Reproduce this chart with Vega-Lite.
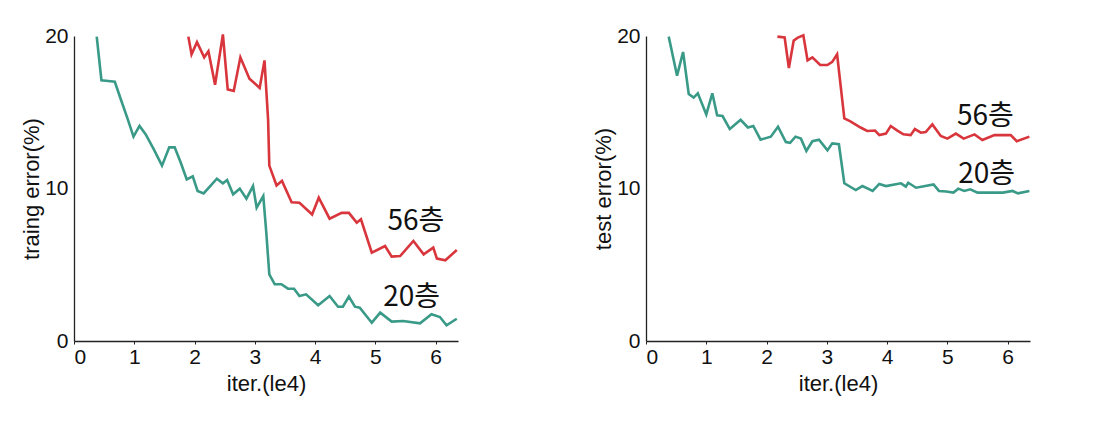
{
  "$schema": "https://vega.github.io/schema/vega-lite/v6.json",
  "padding": {"left": 20, "top": 25, "right": 5, "bottom": 5},
  "background": "white",
  "config": {
    "font": "Liberation Sans",
    "view": {"stroke": null},
    "concat": {"spacing": 130}
  },
  "datasets": {
    "curves": [
      {"panel": "train", "series": "20", "x": 0.377, "y": 19.96},
      {"panel": "train", "series": "20", "x": 0.455, "y": 17.1},
      {"panel": "train", "series": "20", "x": 0.566, "y": 17.05},
      {"panel": "train", "series": "20", "x": 0.677, "y": 17.0},
      {"panel": "train", "series": "20", "x": 0.776, "y": 15.85},
      {"panel": "train", "series": "20", "x": 0.887, "y": 14.6},
      {"panel": "train", "series": "20", "x": 0.987, "y": 13.4},
      {"panel": "train", "series": "20", "x": 1.087, "y": 14.1},
      {"panel": "train", "series": "20", "x": 1.19, "y": 13.55},
      {"panel": "train", "series": "20", "x": 1.32, "y": 12.6},
      {"panel": "train", "series": "20", "x": 1.46, "y": 11.5},
      {"panel": "train", "series": "20", "x": 1.58, "y": 12.7},
      {"panel": "train", "series": "20", "x": 1.67, "y": 12.7},
      {"panel": "train", "series": "20", "x": 1.77, "y": 11.7},
      {"panel": "train", "series": "20", "x": 1.87, "y": 10.6},
      {"panel": "train", "series": "20", "x": 1.97, "y": 10.8},
      {"panel": "train", "series": "20", "x": 2.05, "y": 9.84},
      {"panel": "train", "series": "20", "x": 2.15, "y": 9.68},
      {"panel": "train", "series": "20", "x": 2.26, "y": 10.16},
      {"panel": "train", "series": "20", "x": 2.37, "y": 10.64},
      {"panel": "train", "series": "20", "x": 2.47, "y": 10.34},
      {"panel": "train", "series": "20", "x": 2.54, "y": 10.56},
      {"panel": "train", "series": "20", "x": 2.64, "y": 9.62},
      {"panel": "train", "series": "20", "x": 2.75, "y": 9.99},
      {"panel": "train", "series": "20", "x": 2.86, "y": 9.33},
      {"panel": "train", "series": "20", "x": 2.97, "y": 10.16},
      {"panel": "train", "series": "20", "x": 3.03, "y": 8.74},
      {"panel": "train", "series": "20", "x": 3.14, "y": 9.5},
      {"panel": "train", "series": "20", "x": 3.19, "y": 7.1},
      {"panel": "train", "series": "20", "x": 3.24, "y": 4.37},
      {"panel": "train", "series": "20", "x": 3.33, "y": 3.72},
      {"panel": "train", "series": "20", "x": 3.44, "y": 3.72},
      {"panel": "train", "series": "20", "x": 3.55, "y": 3.43},
      {"panel": "train", "series": "20", "x": 3.65, "y": 3.43},
      {"panel": "train", "series": "20", "x": 3.74, "y": 2.95},
      {"panel": "train", "series": "20", "x": 3.85, "y": 3.06},
      {"panel": "train", "series": "20", "x": 4.05, "y": 2.34},
      {"panel": "train", "series": "20", "x": 4.24, "y": 2.95},
      {"panel": "train", "series": "20", "x": 4.38, "y": 2.25},
      {"panel": "train", "series": "20", "x": 4.46, "y": 2.25},
      {"panel": "train", "series": "20", "x": 4.56, "y": 2.91},
      {"panel": "train", "series": "20", "x": 4.66, "y": 2.25},
      {"panel": "train", "series": "20", "x": 4.74, "y": 2.19},
      {"panel": "train", "series": "20", "x": 4.94, "y": 1.2},
      {"panel": "train", "series": "20", "x": 5.08, "y": 1.86},
      {"panel": "train", "series": "20", "x": 5.27, "y": 1.27},
      {"panel": "train", "series": "20", "x": 5.46, "y": 1.31},
      {"panel": "train", "series": "20", "x": 5.74, "y": 1.16},
      {"panel": "train", "series": "20", "x": 5.93, "y": 1.75},
      {"panel": "train", "series": "20", "x": 6.07, "y": 1.57},
      {"panel": "train", "series": "20", "x": 6.18, "y": 1.03},
      {"panel": "train", "series": "20", "x": 6.35, "y": 1.46},
      {"panel": "train", "series": "56", "x": 1.897, "y": 19.96},
      {"panel": "train", "series": "56", "x": 1.95, "y": 18.8},
      {"panel": "train", "series": "56", "x": 2.04, "y": 19.6},
      {"panel": "train", "series": "56", "x": 2.16, "y": 18.6},
      {"panel": "train", "series": "56", "x": 2.23, "y": 19.0},
      {"panel": "train", "series": "56", "x": 2.34, "y": 16.8},
      {"panel": "train", "series": "56", "x": 2.47, "y": 20.1},
      {"panel": "train", "series": "56", "x": 2.55, "y": 16.5},
      {"panel": "train", "series": "56", "x": 2.65, "y": 16.4},
      {"panel": "train", "series": "56", "x": 2.76, "y": 18.6},
      {"panel": "train", "series": "56", "x": 2.91, "y": 17.2},
      {"panel": "train", "series": "56", "x": 3.08, "y": 16.6},
      {"panel": "train", "series": "56", "x": 3.16, "y": 18.4},
      {"panel": "train", "series": "56", "x": 3.22, "y": 14.5},
      {"panel": "train", "series": "56", "x": 3.24, "y": 11.5},
      {"panel": "train", "series": "56", "x": 3.36, "y": 10.2},
      {"panel": "train", "series": "56", "x": 3.45, "y": 10.5},
      {"panel": "train", "series": "56", "x": 3.61, "y": 9.1},
      {"panel": "train", "series": "56", "x": 3.74, "y": 9.07},
      {"panel": "train", "series": "56", "x": 3.95, "y": 8.3},
      {"panel": "train", "series": "56", "x": 4.06, "y": 9.4},
      {"panel": "train", "series": "56", "x": 4.24, "y": 8.02},
      {"panel": "train", "series": "56", "x": 4.44, "y": 8.4},
      {"panel": "train", "series": "56", "x": 4.56, "y": 8.4},
      {"panel": "train", "series": "56", "x": 4.69, "y": 7.76},
      {"panel": "train", "series": "56", "x": 4.76, "y": 7.98},
      {"panel": "train", "series": "56", "x": 4.94, "y": 5.8},
      {"panel": "train", "series": "56", "x": 5.16, "y": 6.23},
      {"panel": "train", "series": "56", "x": 5.27, "y": 5.53},
      {"panel": "train", "series": "56", "x": 5.41, "y": 5.57},
      {"panel": "train", "series": "56", "x": 5.63, "y": 6.56},
      {"panel": "train", "series": "56", "x": 5.8, "y": 5.68},
      {"panel": "train", "series": "56", "x": 5.96, "y": 6.12},
      {"panel": "train", "series": "56", "x": 6.02, "y": 5.4},
      {"panel": "train", "series": "56", "x": 6.16, "y": 5.29},
      {"panel": "train", "series": "56", "x": 6.35, "y": 5.97},
      {"panel": "test", "series": "20", "x": 0.377, "y": 19.96},
      {"panel": "test", "series": "20", "x": 0.515, "y": 17.4},
      {"panel": "test", "series": "20", "x": 0.615, "y": 18.95},
      {"panel": "test", "series": "20", "x": 0.709, "y": 16.2},
      {"panel": "test", "series": "20", "x": 0.79, "y": 15.96},
      {"panel": "test", "series": "20", "x": 0.86, "y": 16.24},
      {"panel": "test", "series": "20", "x": 1.0, "y": 14.86},
      {"panel": "test", "series": "20", "x": 1.1, "y": 16.24},
      {"panel": "test", "series": "20", "x": 1.18, "y": 14.8},
      {"panel": "test", "series": "20", "x": 1.27, "y": 14.75},
      {"panel": "test", "series": "20", "x": 1.39, "y": 13.9},
      {"panel": "test", "series": "20", "x": 1.57, "y": 14.5},
      {"panel": "test", "series": "20", "x": 1.69, "y": 14.0},
      {"panel": "test", "series": "20", "x": 1.78, "y": 14.1},
      {"panel": "test", "series": "20", "x": 1.9, "y": 13.2},
      {"panel": "test", "series": "20", "x": 2.07, "y": 13.4},
      {"panel": "test", "series": "20", "x": 2.19, "y": 14.05},
      {"panel": "test", "series": "20", "x": 2.32, "y": 13.05},
      {"panel": "test", "series": "20", "x": 2.39, "y": 13.0},
      {"panel": "test", "series": "20", "x": 2.48, "y": 13.4},
      {"panel": "test", "series": "20", "x": 2.57, "y": 13.27},
      {"panel": "test", "series": "20", "x": 2.66, "y": 12.46},
      {"panel": "test", "series": "20", "x": 2.76, "y": 13.1},
      {"panel": "test", "series": "20", "x": 2.87, "y": 13.2},
      {"panel": "test", "series": "20", "x": 3.01, "y": 12.5},
      {"panel": "test", "series": "20", "x": 3.09, "y": 12.96},
      {"panel": "test", "series": "20", "x": 3.2, "y": 12.9},
      {"panel": "test", "series": "20", "x": 3.29, "y": 10.34},
      {"panel": "test", "series": "20", "x": 3.48, "y": 9.9},
      {"panel": "test", "series": "20", "x": 3.59, "y": 10.16},
      {"panel": "test", "series": "20", "x": 3.76, "y": 9.84},
      {"panel": "test", "series": "20", "x": 3.87, "y": 10.3},
      {"panel": "test", "series": "20", "x": 3.98, "y": 10.16},
      {"panel": "test", "series": "20", "x": 4.23, "y": 10.34},
      {"panel": "test", "series": "20", "x": 4.31, "y": 10.12},
      {"panel": "test", "series": "20", "x": 4.35, "y": 10.38},
      {"panel": "test", "series": "20", "x": 4.48, "y": 10.05},
      {"panel": "test", "series": "20", "x": 4.77, "y": 10.27},
      {"panel": "test", "series": "20", "x": 4.86, "y": 9.84},
      {"panel": "test", "series": "20", "x": 4.98, "y": 9.8},
      {"panel": "test", "series": "20", "x": 5.1, "y": 9.73},
      {"panel": "test", "series": "20", "x": 5.18, "y": 9.99},
      {"panel": "test", "series": "20", "x": 5.28, "y": 9.84},
      {"panel": "test", "series": "20", "x": 5.38, "y": 9.95},
      {"panel": "test", "series": "20", "x": 5.5, "y": 9.73},
      {"panel": "test", "series": "20", "x": 5.72, "y": 9.73},
      {"panel": "test", "series": "20", "x": 5.92, "y": 9.73},
      {"panel": "test", "series": "20", "x": 6.08, "y": 9.84},
      {"panel": "test", "series": "20", "x": 6.17, "y": 9.68},
      {"panel": "test", "series": "20", "x": 6.36, "y": 9.84},
      {"panel": "test", "series": "56", "x": 2.18, "y": 19.96},
      {"panel": "test", "series": "56", "x": 2.3, "y": 19.9},
      {"panel": "test", "series": "56", "x": 2.37, "y": 17.9},
      {"panel": "test", "series": "56", "x": 2.45, "y": 19.7},
      {"panel": "test", "series": "56", "x": 2.52, "y": 19.9},
      {"panel": "test", "series": "56", "x": 2.61, "y": 20.04},
      {"panel": "test", "series": "56", "x": 2.68, "y": 18.4},
      {"panel": "test", "series": "56", "x": 2.76, "y": 18.6},
      {"panel": "test", "series": "56", "x": 2.89, "y": 18.1},
      {"panel": "test", "series": "56", "x": 3.01, "y": 18.1},
      {"panel": "test", "series": "56", "x": 3.09, "y": 18.3},
      {"panel": "test", "series": "56", "x": 3.17, "y": 18.8},
      {"panel": "test", "series": "56", "x": 3.29, "y": 14.6},
      {"panel": "test", "series": "56", "x": 3.39, "y": 14.4},
      {"panel": "test", "series": "56", "x": 3.56, "y": 14.0},
      {"panel": "test", "series": "56", "x": 3.67, "y": 13.77},
      {"panel": "test", "series": "56", "x": 3.8, "y": 13.8},
      {"panel": "test", "series": "56", "x": 3.87, "y": 13.5},
      {"panel": "test", "series": "56", "x": 3.98, "y": 13.6},
      {"panel": "test", "series": "56", "x": 4.06, "y": 14.1},
      {"panel": "test", "series": "56", "x": 4.17, "y": 13.8},
      {"panel": "test", "series": "56", "x": 4.27, "y": 13.55},
      {"panel": "test", "series": "56", "x": 4.39, "y": 13.5},
      {"panel": "test", "series": "56", "x": 4.46, "y": 13.9},
      {"panel": "test", "series": "56", "x": 4.56, "y": 13.66},
      {"panel": "test", "series": "56", "x": 4.64, "y": 13.7},
      {"panel": "test", "series": "56", "x": 4.75, "y": 14.2},
      {"panel": "test", "series": "56", "x": 4.89, "y": 13.44},
      {"panel": "test", "series": "56", "x": 5.0, "y": 13.27},
      {"panel": "test", "series": "56", "x": 5.14, "y": 13.6},
      {"panel": "test", "series": "56", "x": 5.27, "y": 13.27},
      {"panel": "test", "series": "56", "x": 5.45, "y": 13.55},
      {"panel": "test", "series": "56", "x": 5.58, "y": 13.18},
      {"panel": "test", "series": "56", "x": 5.78, "y": 13.5},
      {"panel": "test", "series": "56", "x": 6.05, "y": 13.5},
      {"panel": "test", "series": "56", "x": 6.15, "y": 13.1},
      {"panel": "test", "series": "56", "x": 6.36, "y": 13.4}
    ],
    "labels": [
      {"panel": "train", "label": "56층", "x": 5.67, "y": 7.8},
      {"panel": "train", "label": "20층", "x": 5.6, "y": 2.8},
      {"panel": "test", "label": "56층", "x": 5.63, "y": 14.7},
      {"panel": "test", "label": "20층", "x": 5.65, "y": 10.9}
    ]
  },
  "hconcat": [
    {
      "width": 384,
      "height": 305,
      "layer": [
        {
          "data": {"name": "curves"},
          "transform": [{"filter": "datum.panel === 'train'"}],
          "mark": {"type": "line", "strokeWidth": 2.6, "clip": false},
          "encoding": {
            "x": {"field": "x", "type": "quantitative", "scale": {"domain": [0, 6.37], "nice": false},
              "axis": {"values": [0, 1, 2, 3, 4, 5, 6], "format": "d", "title": "iter.(le4)", "titlePadding": 6, "grid": false,
                "domain": true, "domainColor": "#222", "domainWidth": 1.3, "ticks": true, "tickColor": "#222", "tickSize": 3,
                "labelFontSize": 21, "labelColor": "#111", "labelPadding": 2, "labelFont": "Liberation Sans",
                "titleFontSize": 22, "titleFontWeight": "normal", "titleColor": "#111", "titleFont": "Liberation Sans"}},
            "y": {"field": "y", "type": "quantitative", "scale": {"domain": [0, 20], "nice": false},
              "axis": {"values": [0, 10, 20], "format": "d", "title": "traing error(%)", "titlePadding": 1, "grid": false,
                "domain": true, "domainColor": "#222", "domainWidth": 1.3, "ticks": false,
                "labelFontSize": 21, "labelColor": "#111", "labelPadding": 6, "labelFont": "Liberation Sans",
                "titleFontSize": 22, "titleFontWeight": "normal", "titleColor": "#111", "titleFont": "Liberation Sans"}},
            "detail": {"field": "series"},
            "color": {"field": "series", "type": "nominal", "scale": {"domain": ["20", "56"], "range": ["#3a9a88", "#d8363c"]}, "legend": null}
          }
        },
        {
          "data": {"name": "labels"},
          "transform": [{"filter": "datum.panel === 'train'"}],
          "mark": {"type": "text", "fontSize": 28, "color": "#111", "font": "Noto Sans CJK KR"},
          "encoding": {
            "x": {"field": "x", "type": "quantitative"},
            "y": {"field": "y", "type": "quantitative"},
            "text": {"field": "label"}
          }
        }
      ]
    },
    {
      "width": 384,
      "height": 305,
      "layer": [
        {
          "data": {"name": "curves"},
          "transform": [{"filter": "datum.panel === 'test'"}],
          "mark": {"type": "line", "strokeWidth": 2.6, "clip": false},
          "encoding": {
            "x": {"field": "x", "type": "quantitative", "scale": {"domain": [0, 6.37], "nice": false},
              "axis": {"values": [0, 1, 2, 3, 4, 5, 6], "format": "d", "title": "iter.(le4)", "titlePadding": 6, "grid": false,
                "domain": true, "domainColor": "#222", "domainWidth": 1.3, "ticks": true, "tickColor": "#222", "tickSize": 3,
                "labelFontSize": 21, "labelColor": "#111", "labelPadding": 2, "labelFont": "Liberation Sans",
                "titleFontSize": 22, "titleFontWeight": "normal", "titleColor": "#111", "titleFont": "Liberation Sans"}},
            "y": {"field": "y", "type": "quantitative", "scale": {"domain": [0, 20], "nice": false},
              "axis": {"values": [0, 10, 20], "format": "d", "title": "test error(%)", "titlePadding": 1, "grid": false,
                "domain": true, "domainColor": "#222", "domainWidth": 1.3, "ticks": false,
                "labelFontSize": 21, "labelColor": "#111", "labelPadding": 6, "labelFont": "Liberation Sans",
                "titleFontSize": 22, "titleFontWeight": "normal", "titleColor": "#111", "titleFont": "Liberation Sans"}},
            "detail": {"field": "series"},
            "color": {"field": "series", "type": "nominal", "scale": {"domain": ["20", "56"], "range": ["#3a9a88", "#d8363c"]}, "legend": null}
          }
        },
        {
          "data": {"name": "labels"},
          "transform": [{"filter": "datum.panel === 'test'"}],
          "mark": {"type": "text", "fontSize": 28, "color": "#111", "font": "Noto Sans CJK KR"},
          "encoding": {
            "x": {"field": "x", "type": "quantitative"},
            "y": {"field": "y", "type": "quantitative"},
            "text": {"field": "label"}
          }
        }
      ]
    }
  ]
}
